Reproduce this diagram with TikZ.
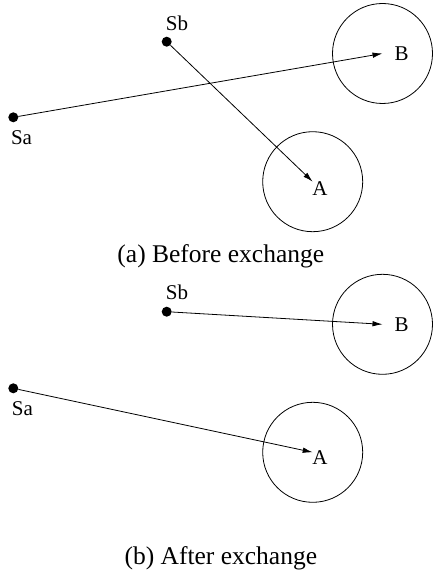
\documentclass[tikz,border=0pt]{standalone}
\usepackage{fontspec}
\setmainfont{Liberation Serif}
\usetikzlibrary{arrows.meta}
\begin{document}
\begin{tikzpicture}[x=1pt,y=-1pt,
  every node/.style={inner sep=0pt},
  station/.style={circle,fill=black,minimum size=10pt},
  zone/.style={circle,draw,line width=0.8pt,minimum size=100pt},
  lbl/.style={font=\fontsize{21}{23}\selectfont},
  captiontext/.style={font=\fontsize{25.5}{28}\selectfont},
  link/.style={line width=0.8pt,-{Latex[length=10pt,width=5.5pt]}}]
\useasboundingbox (0,0) rectangle (432,577);
% (a) before exchange
\node[zone] (aB) at (382.5,53.5) {};
\node[zone] (aA) at (312.7,181.7) {};
\node[station] (aSb) at (166.7,41.7) {};
\node[station] (aSa) at (13.3,117.3) {};
\node[lbl] at (177,23) {Sb};
\node[lbl] at (21.5,137.5) {Sa};
\node[lbl] at (401.7,53.3) {B};
\node[lbl] at (320,188.5) {A};
\draw[link] (aSa) -- (aB.center);
\draw[link] (aSb) -- (aA.center);
\node[captiontext] at (220.8,256) {(a) Before exchange};
% (b) after exchange
\node[zone] (bB) at (382.5,324.3) {};
\node[zone] (bA) at (312.7,452.3) {};
\node[station] (bSb) at (166.7,311.7) {};
\node[station] (bSa) at (13.3,388.3) {};
\node[lbl] at (177,292.7) {Sb};
\node[lbl] at (22.5,408.3) {Sa};
\node[lbl] at (401.7,324.5) {B};
\node[lbl] at (320,457.5) {A};
\draw[link] (bSb) -- (bB.center);
\draw[link] (bSa) -- (bA.center);
\node[captiontext] at (220.8,558) {(b) After exchange};
\end{tikzpicture}
\end{document}
